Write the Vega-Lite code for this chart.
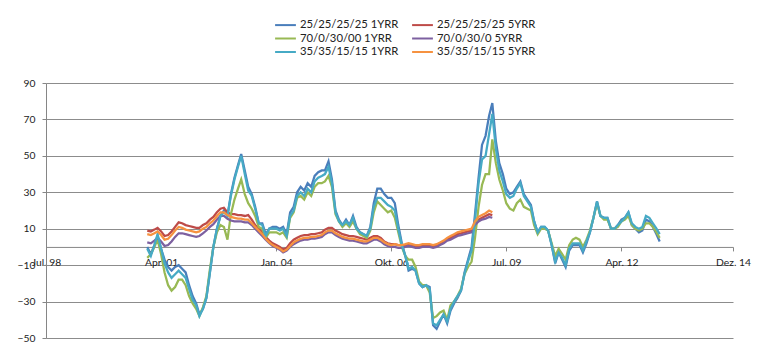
{
 "$schema": "https://vega.github.io/schema/vega-lite/v6.json",
 "width": 687,
 "height": 255,
 "autosize": {"type": "none"},
 "padding": {"left": 46, "top": 83, "right": 37, "bottom": 21},
 "background": "white",
 "config": {"view": {"stroke": null}, "font": "Lato"},
 "data": {
  "format": {"parse": {"d": "date:'%Y-%m'"}},
  "values": [
{"d":"2000-12","B1":0,"B5":9,"G1":-6,"G5":2.5,"C1":-1,"C5":7},
{"d":"2001-01","B1":-4,"B5":8.5,"G1":-4,"G5":2,"C1":-5,"C5":6.5},
{"d":"2001-02","B1":1,"B5":9.5,"G1":0,"G5":3.5,"C1":1,"C5":7.5},
{"d":"2001-03","B1":6,"B5":10.5,"G1":4,"G5":5,"C1":7,"C5":8.5},
{"d":"2001-04","B1":-1,"B5":8.5,"G1":-4,"G5":3,"C1":-1,"C5":6.5},
{"d":"2001-05","B1":-7,"B5":6,"G1":-14,"G5":0.5,"C1":-9,"C5":4},
{"d":"2001-06","B1":-11,"B5":6.5,"G1":-21,"G5":1,"C1":-14,"C5":4.5},
{"d":"2001-07","B1":-13,"B5":8.5,"G1":-24,"G5":3,"C1":-17,"C5":6.5},
{"d":"2001-08","B1":-11,"B5":11,"G1":-22,"G5":5.5,"C1":-15,"C5":9},
{"d":"2001-09","B1":-10,"B5":13.5,"G1":-18,"G5":7.5,"C1":-13,"C5":11},
{"d":"2001-10","B1":-12,"B5":13,"G1":-18,"G5":7.5,"C1":-15,"C5":10.5},
{"d":"2001-11","B1":-14,"B5":12,"G1":-21,"G5":7,"C1":-17,"C5":9.5},
{"d":"2001-12","B1":-21,"B5":11.5,"G1":-27,"G5":6.5,"C1":-23,"C5":9},
{"d":"2002-01","B1":-27,"B5":11,"G1":-31,"G5":6,"C1":-29,"C5":8.5},
{"d":"2002-02","B1":-31,"B5":10.5,"G1":-34,"G5":5.5,"C1":-32,"C5":8},
{"d":"2002-03","B1":-37,"B5":10.5,"G1":-38,"G5":6,"C1":-38,"C5":8.5},
{"d":"2002-04","B1":-34,"B5":12,"G1":-33,"G5":7.5,"C1":-34,"C5":10},
{"d":"2002-05","B1":-28,"B5":13,"G1":-27,"G5":9,"C1":-28,"C5":11},
{"d":"2002-06","B1":-14,"B5":15,"G1":-12,"G5":11,"C1":-14,"C5":13},
{"d":"2002-07","B1":0,"B5":16.5,"G1":0,"G5":12.5,"C1":0,"C5":14.5},
{"d":"2002-08","B1":10,"B5":19,"G1":8,"G5":15,"C1":10,"C5":17},
{"d":"2002-09","B1":17,"B5":21,"G1":12,"G5":17,"C1":17,"C5":19},
{"d":"2002-10","B1":20,"B5":21.5,"G1":11,"G5":17,"C1":19,"C5":19},
{"d":"2002-11","B1":17,"B5":19,"G1":4,"G5":15.5,"C1":17,"C5":17.5},
{"d":"2002-12","B1":29,"B5":18,"G1":18,"G5":14.5,"C1":28,"C5":16.5},
{"d":"2003-01","B1":38,"B5":18,"G1":26,"G5":14,"C1":37,"C5":16},
{"d":"2003-02","B1":45,"B5":17.5,"G1":32,"G5":14,"C1":44,"C5":15.5},
{"d":"2003-03","B1":51,"B5":17.5,"G1":37,"G5":14,"C1":50,"C5":15.5},
{"d":"2003-04","B1":42,"B5":17,"G1":29,"G5":13.5,"C1":40,"C5":15},
{"d":"2003-05","B1":33,"B5":17.5,"G1":24,"G5":13.5,"C1":31,"C5":15},
{"d":"2003-06","B1":29,"B5":15,"G1":21,"G5":12,"C1":28,"C5":13},
{"d":"2003-07","B1":22,"B5":12,"G1":17,"G5":10,"C1":21,"C5":11},
{"d":"2003-08","B1":13,"B5":10,"G1":11,"G5":8,"C1":13,"C5":9},
{"d":"2003-09","B1":13,"B5":8,"G1":10,"G5":6,"C1":12,"C5":7},
{"d":"2003-10","B1":7,"B5":5.5,"G1":5,"G5":4,"C1":6,"C5":4.5},
{"d":"2003-11","B1":10,"B5":3.5,"G1":8,"G5":2,"C1":10,"C5":2.5},
{"d":"2003-12","B1":11,"B5":2,"G1":8,"G5":0.5,"C1":10,"C5":1},
{"d":"2004-01","B1":11,"B5":1,"G1":8,"G5":-0.5,"C1":10,"C5":0},
{"d":"2004-02","B1":10,"B5":0,"G1":7,"G5":-1.5,"C1":9,"C5":-1},
{"d":"2004-03","B1":11,"B5":-1.5,"G1":8,"G5":-3,"C1":10,"C5":-2.5},
{"d":"2004-04","B1":7,"B5":-0.5,"G1":5,"G5":-2,"C1":6,"C5":-1.5},
{"d":"2004-05","B1":19,"B5":2,"G1":16,"G5":0,"C1":17,"C5":0.5},
{"d":"2004-06","B1":22,"B5":4,"G1":19,"G5":1.5,"C1":20,"C5":2.5},
{"d":"2004-07","B1":30,"B5":5,"G1":27,"G5":2.5,"C1":28,"C5":3.5},
{"d":"2004-08","B1":33,"B5":6,"G1":28,"G5":3.5,"C1":30,"C5":4.5},
{"d":"2004-09","B1":31,"B5":6.5,"G1":26,"G5":4,"C1":28,"C5":5},
{"d":"2004-10","B1":35,"B5":6.5,"G1":30,"G5":4,"C1":32,"C5":5},
{"d":"2004-11","B1":33,"B5":7,"G1":28,"G5":4.5,"C1":30,"C5":5.5},
{"d":"2004-12","B1":39,"B5":7,"G1":33,"G5":4.5,"C1":36,"C5":5.5},
{"d":"2005-01","B1":41,"B5":7.5,"G1":35,"G5":5,"C1":38,"C5":6},
{"d":"2005-02","B1":42,"B5":8,"G1":35,"G5":5.5,"C1":39,"C5":6.5},
{"d":"2005-03","B1":42,"B5":9.5,"G1":36,"G5":7,"C1":40,"C5":8},
{"d":"2005-04","B1":47,"B5":10.5,"G1":39,"G5":8,"C1":44,"C5":9},
{"d":"2005-05","B1":37,"B5":10.5,"G1":33,"G5":8,"C1":35,"C5":9},
{"d":"2005-06","B1":20,"B5":9,"G1":18,"G5":6.5,"C1":19,"C5":7.5},
{"d":"2005-07","B1":15,"B5":8,"G1":14,"G5":5.5,"C1":14,"C5":6.5},
{"d":"2005-08","B1":12,"B5":7,"G1":11,"G5":4.5,"C1":12,"C5":5.5},
{"d":"2005-09","B1":15,"B5":6.5,"G1":13,"G5":4,"C1":14,"C5":5},
{"d":"2005-10","B1":12,"B5":6,"G1":11,"G5":3.5,"C1":12,"C5":4.5},
{"d":"2005-11","B1":17,"B5":6,"G1":14,"G5":3.5,"C1":16,"C5":4.5},
{"d":"2005-12","B1":11,"B5":5.5,"G1":10,"G5":3,"C1":10,"C5":4},
{"d":"2006-01","B1":8,"B5":5,"G1":7,"G5":2.5,"C1":8,"C5":3.5},
{"d":"2006-02","B1":7,"B5":4.5,"G1":6,"G5":2,"C1":7,"C5":3},
{"d":"2006-03","B1":6,"B5":4,"G1":5,"G5":2,"C1":6,"C5":3},
{"d":"2006-04","B1":11,"B5":5,"G1":9,"G5":3,"C1":10,"C5":4},
{"d":"2006-05","B1":24,"B5":6,"G1":19,"G5":4,"C1":22,"C5":5},
{"d":"2006-06","B1":32,"B5":6,"G1":25,"G5":4,"C1":27,"C5":5},
{"d":"2006-07","B1":32,"B5":5,"G1":23,"G5":3,"C1":27,"C5":4},
{"d":"2006-08","B1":29,"B5":3,"G1":21,"G5":1.5,"C1":25,"C5":2.5},
{"d":"2006-09","B1":27,"B5":2,"G1":19,"G5":0.5,"C1":23,"C5":1.5},
{"d":"2006-10","B1":27,"B5":1.5,"G1":20,"G5":0,"C1":22,"C5":1},
{"d":"2006-11","B1":24,"B5":1.5,"G1":16,"G5":0,"C1":20,"C5":1.5},
{"d":"2006-12","B1":12,"B5":1,"G1":8,"G5":-0.5,"C1":10,"C5":1},
{"d":"2007-01","B1":2,"B5":1,"G1":0,"G5":-0.5,"C1":1,"C5":1},
{"d":"2007-02","B1":-5,"B5":1,"G1":-5,"G5":0,"C1":-5,"C5":1.5},
{"d":"2007-03","B1":-13,"B5":1.5,"G1":-7,"G5":0.5,"C1":-12,"C5":2},
{"d":"2007-04","B1":-12,"B5":1,"G1":-7,"G5":0,"C1":-11,"C5":1.5},
{"d":"2007-05","B1":-13,"B5":0.5,"G1":-11,"G5":-0.5,"C1":-13,"C5":1},
{"d":"2007-06","B1":-20,"B5":0.5,"G1":-19,"G5":-0.5,"C1":-20,"C5":1},
{"d":"2007-07","B1":-22,"B5":1,"G1":-21,"G5":0,"C1":-22,"C5":1.5},
{"d":"2007-08","B1":-21,"B5":1,"G1":-21,"G5":0,"C1":-21,"C5":1.5},
{"d":"2007-09","B1":-22,"B5":1,"G1":-25,"G5":0,"C1":-23,"C5":1.5},
{"d":"2007-10","B1":-43,"B5":0.5,"G1":-39,"G5":-0.5,"C1":-42,"C5":1},
{"d":"2007-11","B1":-45,"B5":1,"G1":-38,"G5":0,"C1":-43,"C5":1.5},
{"d":"2007-12","B1":-41,"B5":2,"G1":-36,"G5":1,"C1":-40,"C5":2.5},
{"d":"2008-01","B1":-37,"B5":3,"G1":-35,"G5":2,"C1":-37,"C5":3.5},
{"d":"2008-02","B1":-42,"B5":4.5,"G1":-40,"G5":3.5,"C1":-41,"C5":5},
{"d":"2008-03","B1":-35,"B5":5,"G1":-32,"G5":4,"C1":-34,"C5":6},
{"d":"2008-04","B1":-31,"B5":6,"G1":-30,"G5":5,"C1":-30,"C5":7},
{"d":"2008-05","B1":-28,"B5":7,"G1":-27,"G5":6,"C1":-27,"C5":8},
{"d":"2008-06","B1":-24,"B5":7.5,"G1":-23,"G5":6.5,"C1":-24,"C5":8.5},
{"d":"2008-07","B1":-14,"B5":8,"G1":-15,"G5":7,"C1":-15,"C5":9},
{"d":"2008-08","B1":-7,"B5":8.5,"G1":-11,"G5":7.5,"C1":-8,"C5":9.5},
{"d":"2008-09","B1":0,"B5":9,"G1":-8,"G5":8,"C1":-2,"C5":10},
{"d":"2008-10","B1":18,"B5":13,"G1":5,"G5":12,"C1":15,"C5":14},
{"d":"2008-11","B1":38,"B5":15,"G1":22,"G5":14,"C1":35,"C5":16.5},
{"d":"2008-12","B1":56,"B5":16,"G1":34,"G5":15,"C1":48,"C5":17.5},
{"d":"2009-01","B1":61,"B5":17,"G1":40,"G5":15.5,"C1":50,"C5":18.5},
{"d":"2009-02","B1":72,"B5":18,"G1":40,"G5":16.5,"C1":62,"C5":20},
{"d":"2009-03","B1":79,"B5":17.5,"G1":59,"G5":16,"C1":73,"C5":19},
{"d":"2009-04","B1":58,"G1":46,"C1":54},
{"d":"2009-05","B1":46,"G1":37,"C1":42},
{"d":"2009-06","B1":40,"G1":31,"C1":36},
{"d":"2009-07","B1":32,"G1":24,"C1":29},
{"d":"2009-08","B1":29,"G1":21,"C1":27},
{"d":"2009-09","B1":30,"G1":20,"C1":28},
{"d":"2009-10","B1":33,"G1":24,"C1":32},
{"d":"2009-11","B1":36,"G1":26,"C1":35},
{"d":"2009-12","B1":29,"G1":22,"C1":28},
{"d":"2010-01","B1":26,"G1":21,"C1":25},
{"d":"2010-02","B1":23,"G1":20,"C1":22},
{"d":"2010-03","B1":14,"G1":12,"C1":14},
{"d":"2010-04","B1":8,"G1":7,"C1":8},
{"d":"2010-05","B1":11,"G1":10,"C1":11},
{"d":"2010-06","B1":11,"G1":10,"C1":11},
{"d":"2010-07","B1":9,"G1":9,"C1":9},
{"d":"2010-08","B1":1,"G1":2,"C1":1},
{"d":"2010-09","B1":-9,"G1":-5,"C1":-8},
{"d":"2010-10","B1":-3,"G1":-1,"C1":-3},
{"d":"2010-11","B1":-7,"G1":-4,"C1":-6},
{"d":"2010-12","B1":-11,"G1":-7,"C1":-10},
{"d":"2011-01","B1":-2,"G1":1,"C1":-1},
{"d":"2011-02","B1":1,"G1":4,"C1":2},
{"d":"2011-03","B1":1,"G1":5,"C1":2},
{"d":"2011-04","B1":1,"G1":4,"C1":2},
{"d":"2011-05","B1":-3,"G1":0,"C1":-2},
{"d":"2011-06","B1":2,"G1":4,"C1":3},
{"d":"2011-07","B1":8,"G1":9,"C1":8},
{"d":"2011-08","B1":16,"G1":16,"C1":16},
{"d":"2011-09","B1":25,"G1":24,"C1":25},
{"d":"2011-10","B1":17,"G1":17,"C1":17},
{"d":"2011-11","B1":16,"G1":15,"C1":16},
{"d":"2011-12","B1":16,"G1":15,"C1":16},
{"d":"2012-01","B1":10,"G1":10,"C1":10},
{"d":"2012-02","B1":10,"G1":10,"C1":10},
{"d":"2012-03","B1":12,"G1":11,"C1":12},
{"d":"2012-04","B1":15,"G1":14,"C1":14},
{"d":"2012-05","B1":16,"G1":15,"C1":16},
{"d":"2012-06","B1":19,"G1":17,"C1":19},
{"d":"2012-07","B1":12,"G1":12,"C1":13},
{"d":"2012-08","B1":10,"G1":10,"C1":11},
{"d":"2012-09","B1":8,"G1":9,"C1":10},
{"d":"2012-10","B1":9,"G1":10,"C1":11},
{"d":"2012-11","B1":15,"G1":13,"C1":17},
{"d":"2012-12","B1":14,"G1":13,"C1":16},
{"d":"2013-01","B1":11,"G1":11,"C1":13},
{"d":"2013-02","B1":7,"G1":8,"C1":10},
{"d":"2013-03","B1":3,"G1":5,"C1":7}
  ]
 },
 "transform": [
  {"fold": ["B1", "B5", "G1", "G5", "C1", "C5"], "as": ["series", "value"]},
  {"filter": "isValid(datum.value)"}
 ],
 "mark": {"type": "line", "strokeWidth": 2.25},
 "encoding": {
  "x": {
   "field": "d",
   "type": "temporal",
   "scale": {"domain": [{"year": 1998, "month": 7, "date": 1}, {"year": 2014, "month": 12, "date": 1}]},
   "axis": {
    "values": [
     {"year": 1998, "month": 7, "date": 1},
     {"year": 2001, "month": 4, "date": 1},
     {"year": 2004, "month": 1, "date": 1},
     {"year": 2006, "month": 10, "date": 1},
     {"year": 2009, "month": 7, "date": 1},
     {"year": 2012, "month": 4, "date": 1},
     {"year": 2014, "month": 12, "date": 1}
    ],
    "labelExpr": "['Jan.','Feb.','Mrz.','Apr.','Mai','Jun.','Jul.','Aug.','Sep.','Okt.','Nov.','Dez.'][month(datum.value)] + ' ' + timeFormat(datum.value, '%y')",
    "offset": -91.07,
    "grid": false,
    "title": null,
    "domainColor": "#868686",
    "tickColor": "#868686",
    "tickSize": 4,
    "labelFontSize": 10.3,
    "labelColor": "#222222",
    "labelPadding": 7,
    "labelAngle": 0,
    "labelOverlap": false,
    "labelFlush": false
   }
  },
  "y": {
   "field": "value",
   "type": "quantitative",
   "scale": {"domain": [-50, 90], "nice": false, "zero": false},
   "axis": {
    "values": [-50, -30, -10, 10, 30, 50, 70, 90],
    "grid": true,
    "gridColor": "#8c8c8c",
    "domainColor": "#868686",
    "tickColor": "#868686",
    "tickSize": 4,
    "labelPadding": 7,
    "labelFontSize": 10.3,
    "labelColor": "#222222",
    "title": null
   }
  },
  "color": {
   "field": "series",
   "type": "nominal",
   "scale": {
    "domain": ["B1", "G1", "C1", "B5", "G5", "C5"],
    "range": ["#4A7EBB", "#98B954", "#46AAC5", "#BE4B48", "#7D60A0", "#F69240"]
   },
   "legend": {
    "orient": "none",
    "legendX": 232,
    "legendY": -65.5,
    "columns": 2,
    "title": null,
    "padding": 0,
    "symbolType": "M-1.6,0H1.6",
    "symbolSize": 169,
    "symbolStrokeWidth": 2,
    "symbolFillColor": "transparent",
    "labelFontSize": 11.3,
    "labelColor": "#222222",
    "labelOffset": 7,
    "columnPadding": 9,
    "rowPadding": 0.5,
    "labelExpr": "datum.label == 'B1' ? '25/25/25/25 1YRR' : datum.label == 'B5' ? '25/25/25/25 5YRR' : datum.label == 'G1' ? '70/0/30/00 1YRR' : datum.label == 'G5' ? '70/0/30/0 5YRR' : datum.label == 'C1' ? '35/35/15/15 1YRR' : '35/35/15/15 5YRR'"
   }
  }
 }
}
